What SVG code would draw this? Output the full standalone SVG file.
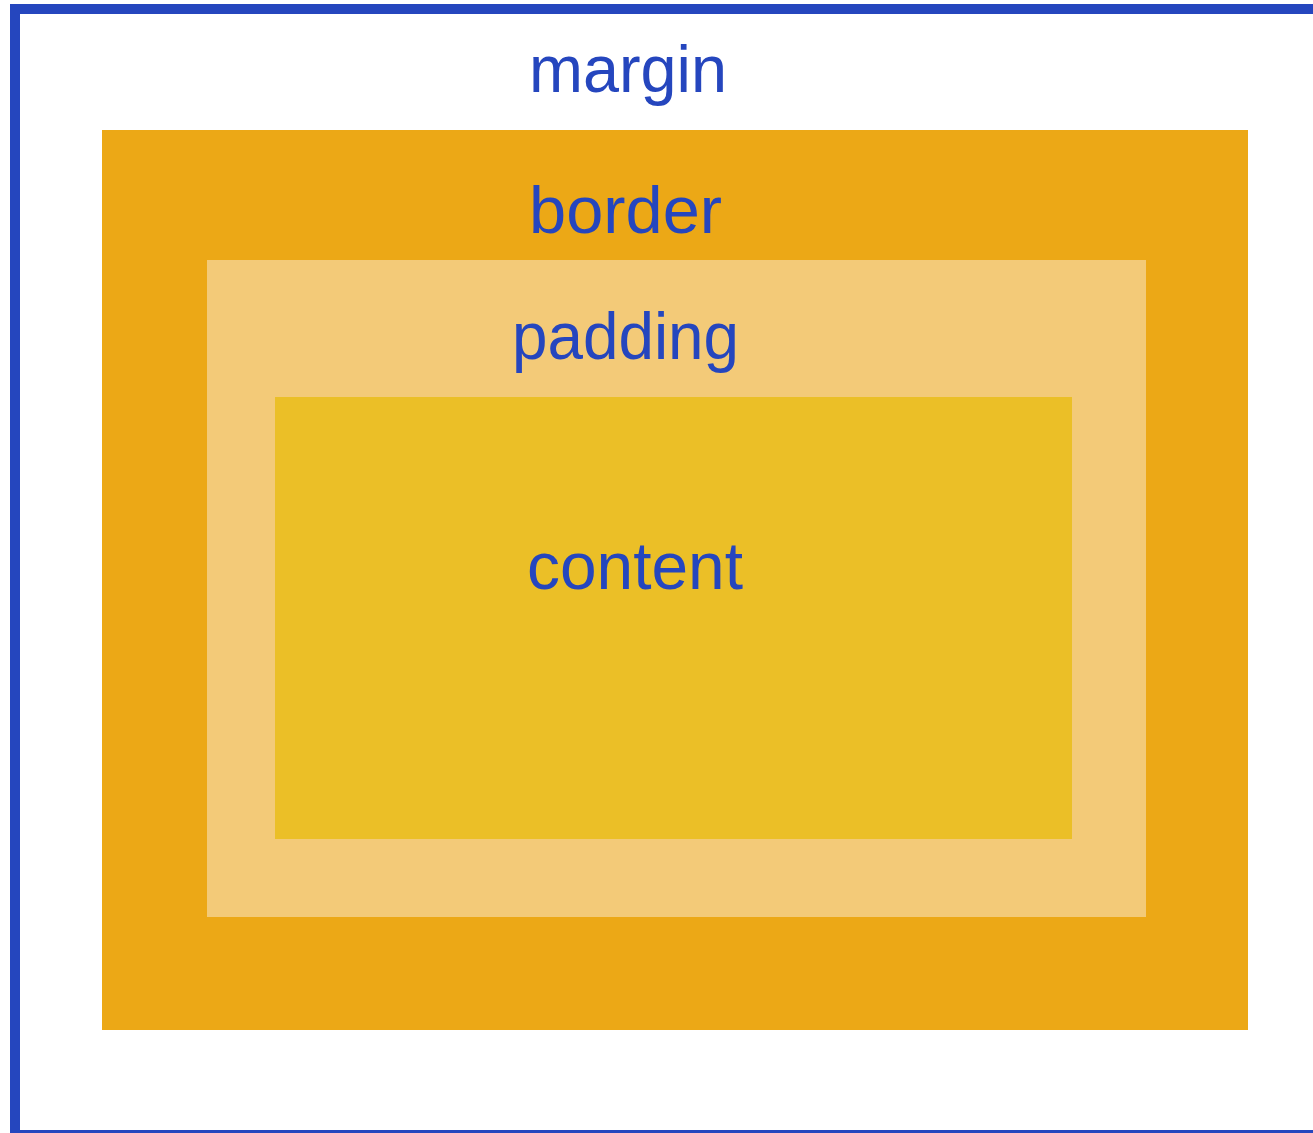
<svg xmlns="http://www.w3.org/2000/svg" width="1313" height="1133" viewBox="0 0 1313 1133">
<style>
.lbl{font-family:"Liberation Sans",Arial,sans-serif;font-size:67px;fill:#2546BE}
</style>
<rect x="0" y="0" width="1313" height="1133" fill="#ffffff"/>
<g id="margin">
<rect x="15" y="9" width="1320" height="1126" fill="#ffffff" stroke="#2546BE" stroke-width="10"/>
<text class="lbl" x="529" y="92" textLength="198" lengthAdjust="spacingAndGlyphs">margin</text>
</g>
<g id="border">
<rect x="102" y="130" width="1146" height="900" fill="#ECA816"/>
<text class="lbl" x="529" y="233" textLength="193" lengthAdjust="spacingAndGlyphs">border</text>
</g>
<g id="padding">
<rect x="207" y="260" width="939" height="657" fill="#F3CA78"/>
<text class="lbl" x="512" y="359" textLength="227" lengthAdjust="spacingAndGlyphs">padding</text>
</g>
<g id="content">
<rect x="275" y="397" width="797" height="442" fill="#EBBF27"/>
<text class="lbl" x="527" y="589" textLength="216" lengthAdjust="spacingAndGlyphs">content</text>
</g>
<g id="connectors"></g>
</svg>
